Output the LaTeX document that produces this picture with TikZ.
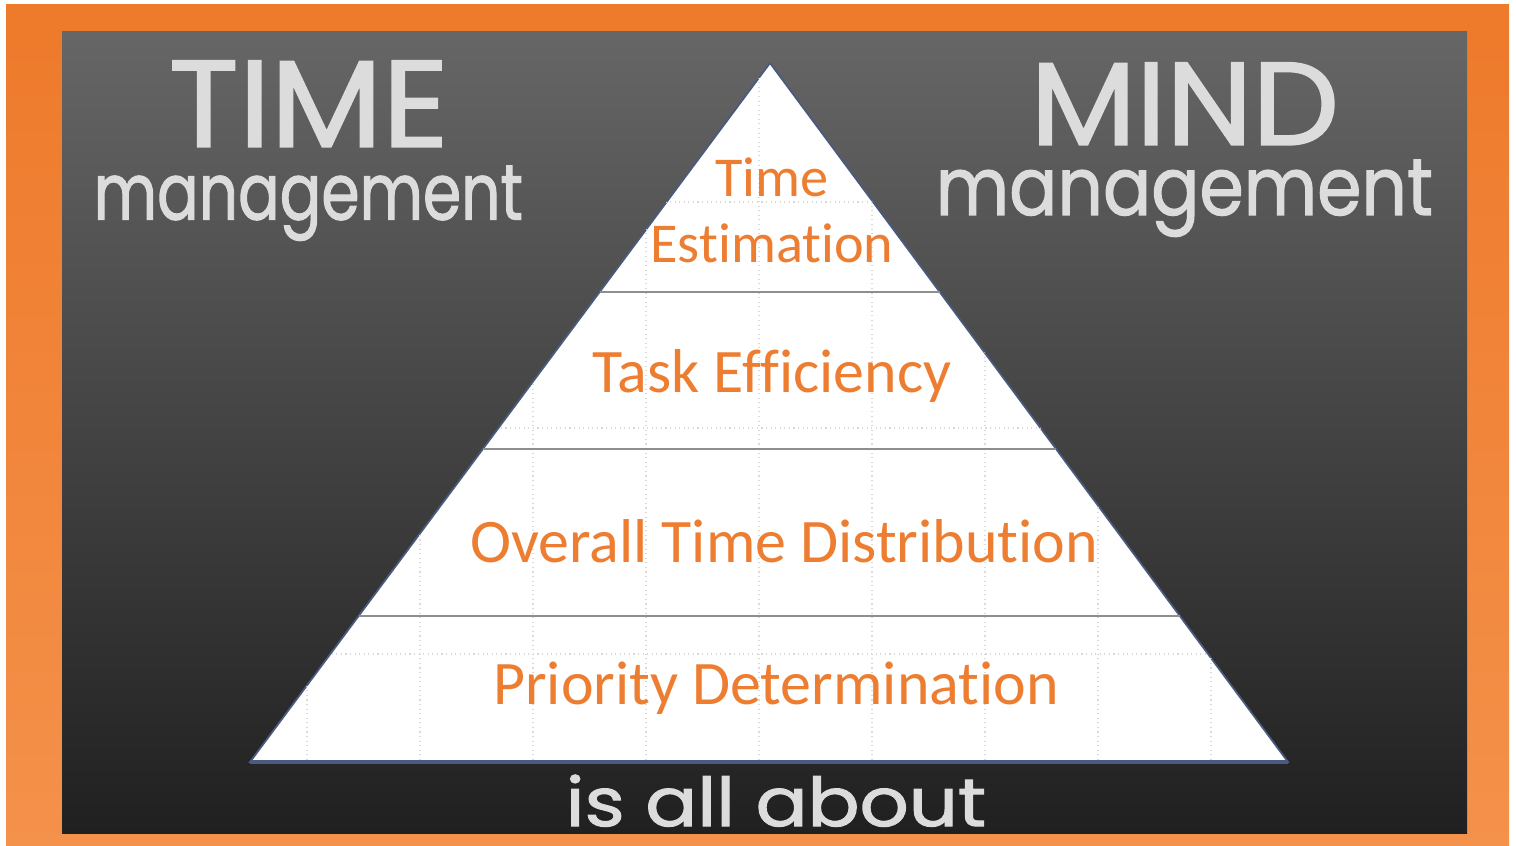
\documentclass[tikz,border=0pt]{standalone}
\usepackage{fontspec}
\setmainfont[Ligatures=NoCommon]{Carlito}
\newfontfamily\chalkfont[FakeBold=1.5]{Poppins}
\usetikzlibrary{calc}

\definecolor{frameorange}{HTML}{EE7A2B}
\definecolor{framelight}{HTML}{F4914A}
\definecolor{boardtop}{HTML}{666666}
\definecolor{boardmid}{HTML}{474747}
\definecolor{boardlow}{HTML}{202020}
\definecolor{labelorange}{HTML}{ED7D31}
\definecolor{chalk}{HTML}{DCDCDC}
\definecolor{edgeblue}{HTML}{4A5A80}
\definecolor{layergray}{HTML}{8E8E8E}

\tikzset{
  layer/.style={text=labelorange, font=\fontsize{17.6}{21}\selectfont, anchor=base, inner sep=0pt},
  chalkword/.style={text=chalk, font=\chalkfont, anchor=north west, inner sep=0pt},
  divider/.style={draw=layergray, line width=0.8pt},
  gridline/.style={draw=black!15, densely dotted, line width=0.3pt}
}

\begin{document}
\begin{tikzpicture}[x=0.01cm, y=-0.01cm]
  \useasboundingbox (0,0) rectangle (1516,846);
  \fill[white] (0,0) rectangle (1516,846);

  % frame and board
  \shade[top color=frameorange, bottom color=framelight] (6,5) rectangle (1509,846);
  \shade[top color=boardtop, middle color=boardmid, bottom color=boardlow] (62,32) rectangle (1467,833);

  % the pyramid
  \coordinate (apex) at (770,63);
  \coordinate (baseL) at (250,762);
  \coordinate (baseR) at (1288,762);
  \filldraw[fill=white, draw=edgeblue, line width=0.5pt] (apex) -- (baseR) -- (baseL) -- cycle;

  \begin{scope}
    \clip (apex) -- (baseR) -- (baseL) -- cycle;
    \foreach \gx in {81,194,...,1212}
      \draw[gridline] (\gx,32) -- (\gx,833);
    \foreach \gy in {202,428,654}
      \draw[gridline] (62,\gy) -- (1467,\gy);
  \end{scope}

  \foreach \t in {0.3276,0.5522,0.7911}
    \draw[divider] ($(apex)!\t!(baseL)$) -- ($(apex)!\t!(baseR)$);
  \draw[edgeblue, line width=0.9pt] (baseL) -- (baseR);

  % layer labels
  \node[layer, font=\fontsize{16}{19}\selectfont] (lblTime) at (772,197) {Time};
  \node[layer, font=\fontsize{16}{19}\selectfont] (lblEst) at (772,263) {Estimation};
  \node[layer] (lblTask) at (772,392) {Task Efficiency};
  \node[layer] (lblOverall) at (784,562) {Overall Time Distribution};
  \node[layer] (lblPriority) at (776,704) {Priority Determination};

  % chalk writing
  \node[chalkword] (timeword) at (168,60) {\resizebox*{2.80cm}{0.86cm}{TIME}};
  \node[chalkword] (timemgmt) at (93,165) {\resizebox*{4.29cm}{0.75cm}{management}};
  \node[chalkword] (mindword) at (1030,62) {\resizebox*{3.08cm}{0.82cm}{MIND}};
  \node[chalkword] (mindmgmt) at (935,159) {\resizebox*{4.97cm}{0.77cm}{management}};
  \node[chalkword] (allabout) at (565,774) {\resizebox*{4.20cm}{0.52cm}{is all about}};
\end{tikzpicture}
\end{document}
